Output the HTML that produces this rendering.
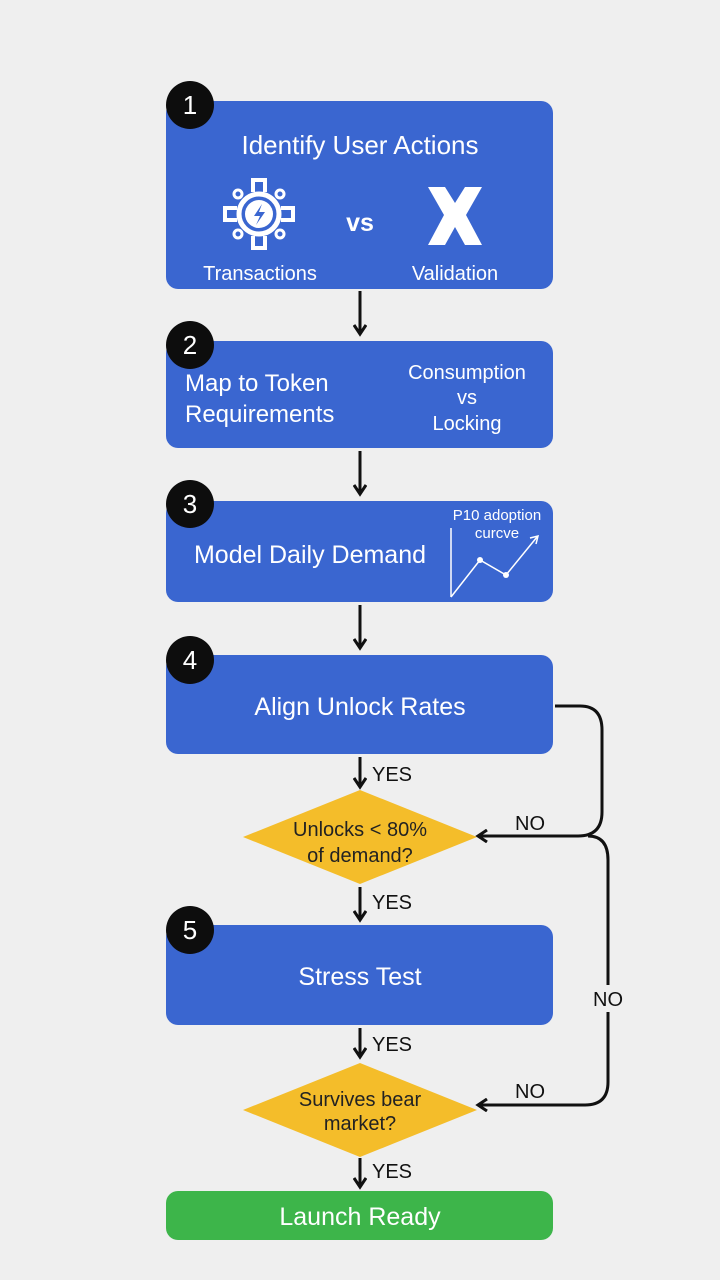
<!DOCTYPE html>
<html><head><meta charset="utf-8"><style>
body{margin:0;background:#efefef;}
svg{display:block;font-family:"Liberation Sans",sans-serif;}
</style></head><body>
<svg width="720" height="1280" viewBox="0 0 720 1280" xmlns="http://www.w3.org/2000/svg">
<defs>
<marker id="ah" markerWidth="14" markerHeight="14" refX="10" refY="7" orient="auto" markerUnits="userSpaceOnUse">
<path d="M1,1 L10,7 L1,13" fill="none" stroke="#111" stroke-width="3"/>
</marker>
</defs>
<rect width="720" height="1280" fill="#efefef"/>
<g fill="#3a66d0">
<rect x="166" y="101" width="387" height="188" rx="12"/>
<rect x="166" y="341" width="387" height="107" rx="12"/>
<rect x="166" y="501" width="387" height="101" rx="12"/>
<rect x="166" y="655" width="387" height="99" rx="12"/>
<rect x="166" y="925" width="387" height="100" rx="12"/>
</g>
<rect x="166" y="1191" width="387" height="49" rx="12" fill="#3db54a"/>
<polygon points="243,837 360,790 477,837 360,884" fill="#f4bd2a"/>
<polygon points="243,1110 360,1063 477,1110 360,1157" fill="#f4bd2a"/>
<g fill="#0d0d0d">
<circle cx="190" cy="105" r="24"/><circle cx="190" cy="345" r="24"/>
<circle cx="190" cy="504" r="24"/><circle cx="190" cy="660" r="24"/>
<circle cx="190" cy="930" r="24"/>
</g>
<g fill="#fff" font-size="26" text-anchor="middle">
<text x="190" y="114">1</text><text x="190" y="354">2</text><text x="190" y="513">3</text><text x="190" y="669">4</text><text x="190" y="939">5</text>
</g>
<g fill="#fff" text-anchor="middle">
<text x="360" y="154" font-size="26">Identify User Actions</text>
<text x="260" y="280" font-size="20">Transactions</text>
<text x="455" y="280" font-size="20">Validation</text>
<text x="360" y="231" font-size="25" font-weight="bold">vs</text>
<text x="185" y="391" font-size="24" text-anchor="start">Map to Token</text>
<text x="185" y="422" font-size="24" text-anchor="start">Requirements</text>
<text x="467" y="379" font-size="20">Consumption</text>
<text x="467" y="404" font-size="20">vs</text>
<text x="467" y="430" font-size="20">Locking</text>
<text x="310" y="563" font-size="25">Model Daily Demand</text>
<text x="497" y="520" font-size="15">P10 adoption</text>
<text x="497" y="538" font-size="15">curcve</text>
<text x="360" y="715" font-size="25">Align Unlock Rates</text>
<text x="360" y="985" font-size="25">Stress Test</text>
<text x="360" y="1225" font-size="25">Launch Ready</text>
</g>
<!-- icons -->
<g fill="none" stroke="#fff" stroke-width="5">
<circle cx="259" cy="214" r="20"/>
<circle cx="238" cy="194" r="4" stroke-width="3"/><circle cx="280" cy="194" r="4" stroke-width="3"/>
<circle cx="238" cy="234" r="4" stroke-width="3"/><circle cx="280" cy="234" r="4" stroke-width="3"/>
<path d="M253,192 V180 H265 V192 M253,236 V248 H265 V236 M237,208 H225 V220 H237 M281,208 H293 V220 H281" stroke-width="4"/>
</g>
<circle cx="259" cy="214" r="14" fill="#fff"/>
<path d="M262,204 L254,216 H260 L256,225 L265,212 H259 Z" fill="#3a66d0"/>
<path d="M428,187 H445 L455,203 L465,187 H482 L466,215 L482,245 H465 L455,227 L445,245 H428 L444,215 Z" fill="#fff"/>
<polyline points="451,597 480,560 506,575 537,537" fill="none" stroke="#fff" stroke-width="1.5"/>
<path d="M530,538 L538,536 L536,544" fill="none" stroke="#fff" stroke-width="1.5"/>
<line x1="451" y1="528" x2="451" y2="597" stroke="#fff" stroke-width="1.5"/>
<circle cx="480" cy="560" r="3" fill="#fff"/><circle cx="506" cy="575" r="3" fill="#fff"/>
<g fill="#222" text-anchor="middle" font-size="20">
<text x="360" y="836">Unlocks &lt; 80%</text>
<text x="360" y="862">of demand?</text>
<text x="360" y="1106">Survives bear</text>
<text x="360" y="1130">market?</text>
</g>
<!-- arrows -->
<g stroke="#111" stroke-width="3" fill="none" marker-end="url(#ah)">
<line x1="360" y1="291" x2="360" y2="334"/>
<line x1="360" y1="451" x2="360" y2="494"/>
<line x1="360" y1="605" x2="360" y2="648"/>
<line x1="360" y1="757" x2="360" y2="787"/>
<line x1="360" y1="887" x2="360" y2="920"/>
<line x1="360" y1="1028" x2="360" y2="1057"/>
<line x1="360" y1="1158" x2="360" y2="1187"/>
<path d="M555,706 H580 Q602,706 602,730 V812 Q602,836 578,836 H478"/>
<path d="M588,836 Q608,836 608,860 V985 M608,1012 V1082 Q608,1105 585,1105 H478"/>
</g>
<g fill="#111" font-size="20">
<text x="372" y="781">YES</text><text x="372" y="909">YES</text>
<text x="372" y="1051">YES</text><text x="372" y="1178">YES</text>
<text x="515" y="830">NO</text><text x="593" y="1006">NO</text><text x="515" y="1098">NO</text>
</g>
</svg>
</body></html>
